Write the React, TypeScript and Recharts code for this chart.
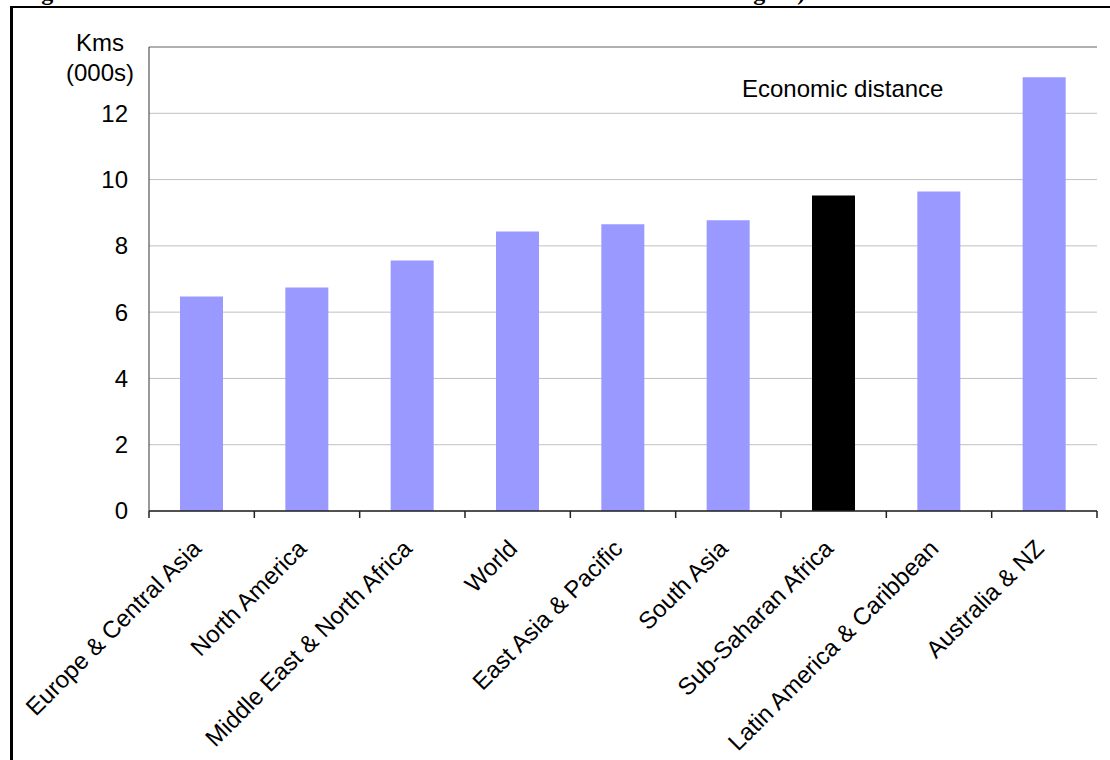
import { BarChart, Bar, Cell, XAxis, YAxis, CartesianGrid, ReferenceLine } from 'recharts';

// economic distance by region, thousands of km
const regions = [
  'Europe & Central Asia',
  'North America',
  'Middle East & North Africa',
  'World',
  'East Asia & Pacific',
  'South Asia',
  'Sub-Saharan Africa',
  'Latin America & Caribbean',
  'Australia & NZ',
];
const distance = [6.47, 6.74, 7.56, 8.43, 8.65, 8.77, 9.52, 9.64, 13.09];
const yTicks = [0, 2, 4, 6, 8, 10, 12];
const highlighted = 'Sub-Saharan Africa';

const FONT = '"Liberation Sans", Arial, sans-serif';

const data = regions.map((region, i) => ({ region, distance: distance[i] }));

function XTick(props: any) {
  const { x, y, payload, index } = props;
  const off = payload.offset || 0;
  const last = index === regions.length - 1;
  return (
    <g>
      <line x1={x - off} y1={y} x2={x - off} y2={y + 7} stroke="#222" strokeWidth={1.5} />
      {last && <line x1={x + off} y1={y} x2={x + off} y2={y + 7} stroke="#222" strokeWidth={1.5} />}
      <text
        transform={`translate(${x + 1},${y + 39}) rotate(-45)`}
        textAnchor="end"
        fontFamily={FONT}
        fontSize={24}
        fill="#000"
      >
        {payload.value}
      </text>
    </g>
  );
}

function YTick(props: any) {
  const { x, y, payload } = props;
  return (
    <text x={x - 21} y={y} dy="0.35em" textAnchor="end" fontFamily={FONT} fontSize={24} fill="#000">
      {payload.value}
    </text>
  );
}

export default function App() {
  return (
    <div style={{ position: 'fixed', inset: 0, overflow: 'hidden', background: '#fff' }}>
      <div
        style={{
          position: 'absolute',
          left: 10,
          top: 6,
          width: 1300,
          height: 1000,
          borderTop: '2px solid #000',
          borderLeft: '3px solid #000',
        }}
      />
      <svg width={1110} height={12} style={{ position: 'absolute', left: 0, top: 0 }}>
        <text x={20} y={0} fontFamily='"Liberation Serif", "Times New Roman", serif' fontWeight="bold" fontSize={24}>
          Figure 3: Economic distance to markets is an obstacle for the African region)
        </text>
      </svg>
      <div style={{ position: 'absolute', left: 0, top: 0 }}>
        <BarChart
          width={1110}
          height={760}
          data={data}
          margin={{ top: 47, right: 13, left: 89, bottom: 9 }}
          barSize={43}
        >
          <CartesianGrid vertical={false} stroke="#c0c0c0" />
          <ReferenceLine y={14} stroke="#808080" />
          <XAxis
            dataKey="region"
            interval={0}
            height={240}
            tickSize={0}
            tickMargin={0}
            tickLine={false}
            axisLine={{ stroke: '#222', strokeWidth: 1.5 }}
            tick={<XTick />}
          />
          <YAxis
            domain={[0, 14]}
            ticks={yTicks}
            width={60}
            tickSize={0}
            tickMargin={0}
            tickLine={false}
            axisLine={{ stroke: '#333' }}
            tick={<YTick />}
          />
          <YAxis yAxisId="frame" orientation="right" width={0} tick={false} tickLine={false} axisLine={{ stroke: '#999', strokeWidth: 2 }} />
          <Bar dataKey="distance" isAnimationActive={false}>
            {data.map((d) => (
              <Cell key={d.region} fill={d.region === highlighted ? '#000000' : '#9999ff'} />
            ))}
          </Bar>
        </BarChart>
      </div>
      <svg width={1110} height={120} style={{ position: 'absolute', left: 0, top: 0, pointerEvents: 'none' }}>
        <text x={100} y={51} textAnchor="middle" fontFamily={FONT} fontSize={24}>Kms</text>
        <text x={100} y={81} textAnchor="middle" fontFamily={FONT} fontSize={24}>(000s)</text>
        <text x={742} y={97} fontFamily={FONT} fontSize={24}>Economic distance</text>
      </svg>
    </div>
  );
}
